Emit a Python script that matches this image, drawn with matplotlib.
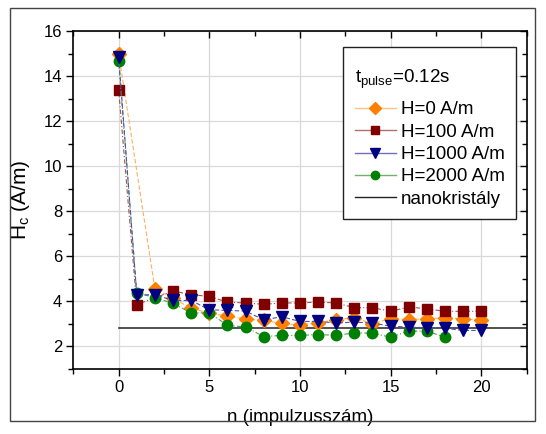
import numpy as np
import matplotlib.pyplot as plt
from matplotlib.patches import Rectangle
from matplotlib.lines import Line2D
from matplotlib.ticker import MultipleLocator

plt.rcParams['font.family'] = ['Liberation Sans', 'DejaVu Sans']
plt.rcParams['mathtext.default'] = 'regular'

# adatok (leolvasva)
n_h0 = [0, 2, 3, 4, 5, 6, 7, 8, 9, 10, 11, 12, 13, 14, 15, 16, 17, 18, 19, 20]
hc_h0 = [15.0, 4.56, 4.13, 3.70, 3.47, 3.35, 3.21, 3.16, 3.02, 2.95, 3.05, 3.19, 3.28,
         3.01, 3.23, 3.19, 3.23, 3.27, 3.23, 3.16]

n_h100 = [0, 1, 3, 4, 5, 6, 7, 8, 9, 10, 11, 12, 13, 14, 15, 16, 17, 18, 19, 20]
hc_h100 = [13.4, 3.86, 4.46, 4.30, 4.22, 3.97, 3.93, 3.87, 3.93, 3.93, 3.97, 3.93, 3.72,
           3.72, 3.56, 3.75, 3.67, 3.56, 3.56, 3.56]

n_h1000 = list(range(0, 21))
hc_h1000 = [14.85, 4.28, 4.30, 4.04, 4.04, 3.63, 3.60, 3.57, 3.18, 3.32, 3.11, 3.11, 3.04,
            3.08, 3.04, 2.90, 2.86, 2.83, 2.81, 2.71, 2.71]

n_h2000 = list(range(0, 19))
hc_h2000 = [14.65, 4.38, 4.17, 3.91, 3.49, 3.49, 2.94, 2.86, 2.44, 2.49, 2.49, 2.53, 2.49,
            2.60, 2.59, 2.41, 2.68, 2.68, 2.41]

nano_x = [0, 22.5]
nano_y = [2.8, 2.8]

fig = plt.figure(figsize=(5.46, 4.34), dpi=100)
ax = fig.add_axes([0.1343, 0.1498, 0.8300, 0.7788])

# keret az egész ábra körül
fig.patches.append(Rectangle((10 / 546, 1 - 421 / 434), 525 / 546, 413 / 434,
                             transform=fig.transFigure, fill=False,
                             edgecolor='#444444', linewidth=1.0))

ax.plot(n_h0, hc_h0, linestyle=(0, (4, 2)), linewidth=0.8, color='#ffb060',
        marker='D', markersize=7, markerfacecolor='#ff8000', markeredgecolor='#ff8000',
        zorder=3)
ax.plot(n_h100, hc_h100, linestyle=(0, (4, 2, 1, 2)), linewidth=0.8, color='#a05050',
        marker='s', markersize=7, markerfacecolor='#800000', markeredgecolor='#800000',
        zorder=4)
ax.plot(n_h2000, hc_h2000, linestyle=(0, (4, 2, 1, 2)), linewidth=0.8, color='#50a050',
        marker='o', markersize=7.5, markerfacecolor='#008000', markeredgecolor='#008000',
        zorder=5)
ax.plot(n_h1000, hc_h1000, linestyle=(0, (4, 2)), linewidth=0.8, color='#5050b0',
        marker='v', markersize=8.5, markerfacecolor='#000080', markeredgecolor='#000080',
        zorder=6)
ax.plot(nano_x, nano_y, color='#333333', linewidth=1.2, zorder=2)

ax.set_xlim(-2.5, 22.5)
ax.set_ylim(1, 16)
ax.xaxis.set_major_locator(MultipleLocator(5))
ax.xaxis.set_minor_locator(MultipleLocator(2.5))
ax.yaxis.set_major_locator(MultipleLocator(2))
ax.yaxis.set_minor_locator(MultipleLocator(1))
ax.grid(True, which='major', color='#d9d9d9', linewidth=0.9, zorder=0)
ax.set_axisbelow(True)

ax.tick_params(which='both', direction='out', labelsize=12, width=1.0, pad=3)
ax.tick_params(which='major', length=5)
ax.tick_params(which='minor', length=3.5)
ax.tick_params(which='both', top=True, right=True)
for sp in ax.spines.values():
    sp.set_linewidth(1.2)

# felső és jobb oldali tickek befelé
for t in ax.xaxis.get_major_ticks() + ax.xaxis.get_minor_ticks():
    t.tick2line.set_marker(3)
for t in ax.yaxis.get_major_ticks() + ax.yaxis.get_minor_ticks():
    t.tick2line.set_marker(0)

ax.set_xlabel('n (impulzusszám)', fontsize=13.5, labelpad=10)
ax.set_ylabel('H$_c$ (A/m)', fontsize=15, labelpad=8)

handles = [
    Line2D([], [], color='#ffc080', lw=1, marker='D', ms=6, mfc='#ff8000', mec='#ff8000'),
    Line2D([], [], color='#b07070', lw=1, marker='s', ms=6, mfc='#800000', mec='#800000'),
    Line2D([], [], color='#7070c0', lw=1, marker='v', ms=7, mfc='#000080', mec='#000080'),
    Line2D([], [], color='#70b070', lw=1, marker='o', ms=6, mfc='#008000', mec='#008000'),
    Line2D([], [], color='#222222', lw=1),
]
labels = ['H=0 A/m', 'H=100 A/m', 'H=1000 A/m', 'H=2000 A/m', 'nanokristály']
leg = ax.legend(handles, labels, title='\nt$_{pulse}$=0.12s', title_fontsize=13.5,
                fontsize=13.5, loc='upper right', bbox_to_anchor=(0.977, 0.953),
                borderaxespad=0, handlelength=2.2, handletextpad=0.27,
                labelspacing=0.28, borderpad=0.6, fancybox=False, framealpha=1,
                edgecolor='#222222')
leg._legend_box.align = 'left'
leg._legend_box.sep = 7
leg.get_title().set_linespacing(0.55)
leg.get_frame().set_linewidth(1.0)

fig.savefig('out.png', dpi=100)
